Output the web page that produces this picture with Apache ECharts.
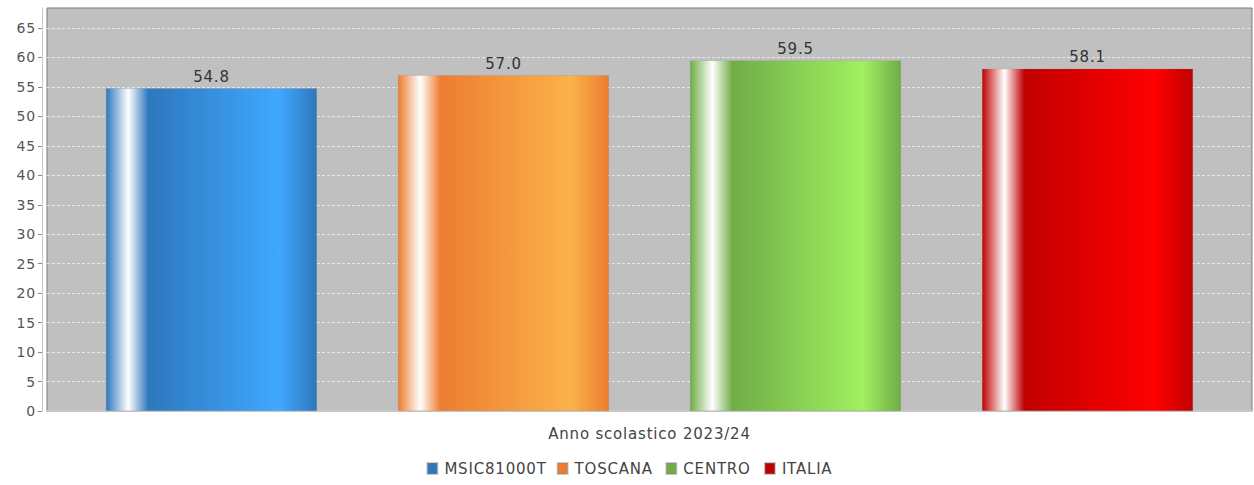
<!DOCTYPE html>
<html><head><meta charset="utf-8">
<script src="https://cdn.jsdelivr.net/npm/echarts@6/dist/echarts.min.js"></script>
<style>html,body{margin:0;padding:0;background:#fff}#c{width:1254px;height:485px}#c text{letter-spacing:0.8px}</style>
</head><body><div id="c"></div>
<script>
const categories = ['Anno scolastico 2023/24'];
const seriesNames = ['MSIC81000T', 'TOSCANA', 'CENTRO', 'ITALIA'];
const seriesValues = [[54.8], [57.0], [59.5], [58.1]];
const baseColors = ['#2e77bd', '#ed7d31', '#70ad47', '#c00000'];
const lightColors = ['#40a8ff', '#fbb24a', '#a0f060', '#ff0000'];
const yTicks = [0, 5, 10, 15, 20, 25, 30, 35, 40, 45, 50, 55, 60, 65];

const FONT = 'DejaVu Sans';
function grad(i) {
  return new echarts.graphic.LinearGradient(0, 0, 1, 0, [
    {offset: 0, color: baseColors[i]},
    {offset: 0.105, color: '#ffffff'},
    {offset: 0.2, color: baseColors[i]},
    {offset: 0.82, color: lightColors[i]},
    {offset: 1, color: baseColors[i]}
  ]);
}
const chart = echarts.init(document.getElementById('c'), null, {renderer: 'svg'});
chart.setOption({
  animation: false,
  textStyle: {fontFamily: FONT},
  grid: {left: 47, right: 2, top: 8, bottom: 74, show: true, backgroundColor: '#c0c0c0', borderColor: '#7a7a7a', borderWidth: 1, containLabel: false},
  legend: {
    bottom: 4, left: 'center', itemWidth: 10, itemHeight: 11, itemGap: 18,
    icon: 'rect',
    textStyle: {fontFamily: FONT, fontSize: 15, color: '#444', padding: [0, 0, 0, 2]},
    data: seriesNames.map((n, i) => ({name: n, itemStyle: {color: baseColors[i]}}))
  },
  xAxis: {
    type: 'category', data: categories, offset: 5,
    axisLine: {lineStyle: {color: '#c8c8c8', width: 2}},
    axisTick: {alignWithLabel: true, inside: true, length: 3, lineStyle: {color: '#888'}},
    axisLabel: {fontFamily: FONT, fontSize: 15, color: '#444', margin: 10}
  },
  yAxis: {
    type: 'value', min: 0, max: 68.4, interval: 5, offset: 5,
    axisLine: {show: true, lineStyle: {color: '#c8c8c8', width: 1}},
    axisTick: {show: true, length: 4, lineStyle: {color: '#888'}},
    axisLabel: {fontFamily: FONT, fontSize: 14, color: '#555', margin: 6, showMaxLabel: false,
      formatter: v => (yTicks.indexOf(v) >= 0 ? String(v) : '')},
    splitLine: {show: true, showMaxLine: false, lineStyle: {color: '#e8e8e8', type: [3, 2], width: 1}}
  },
  series: seriesNames.map((n, i) => ({
    name: n, type: 'bar', data: seriesValues[i],
    barWidth: 211, barGap: '38.4%',
    itemStyle: {color: grad(i), borderColor: 'rgba(128,128,128,0.4)', borderWidth: 0.5},
    label: {show: true, position: 'top', distance: 4, fontFamily: FONT, fontSize: 15, color: '#333',
      formatter: p => p.value.toFixed(1)}
  }))
});
</script></body></html>
